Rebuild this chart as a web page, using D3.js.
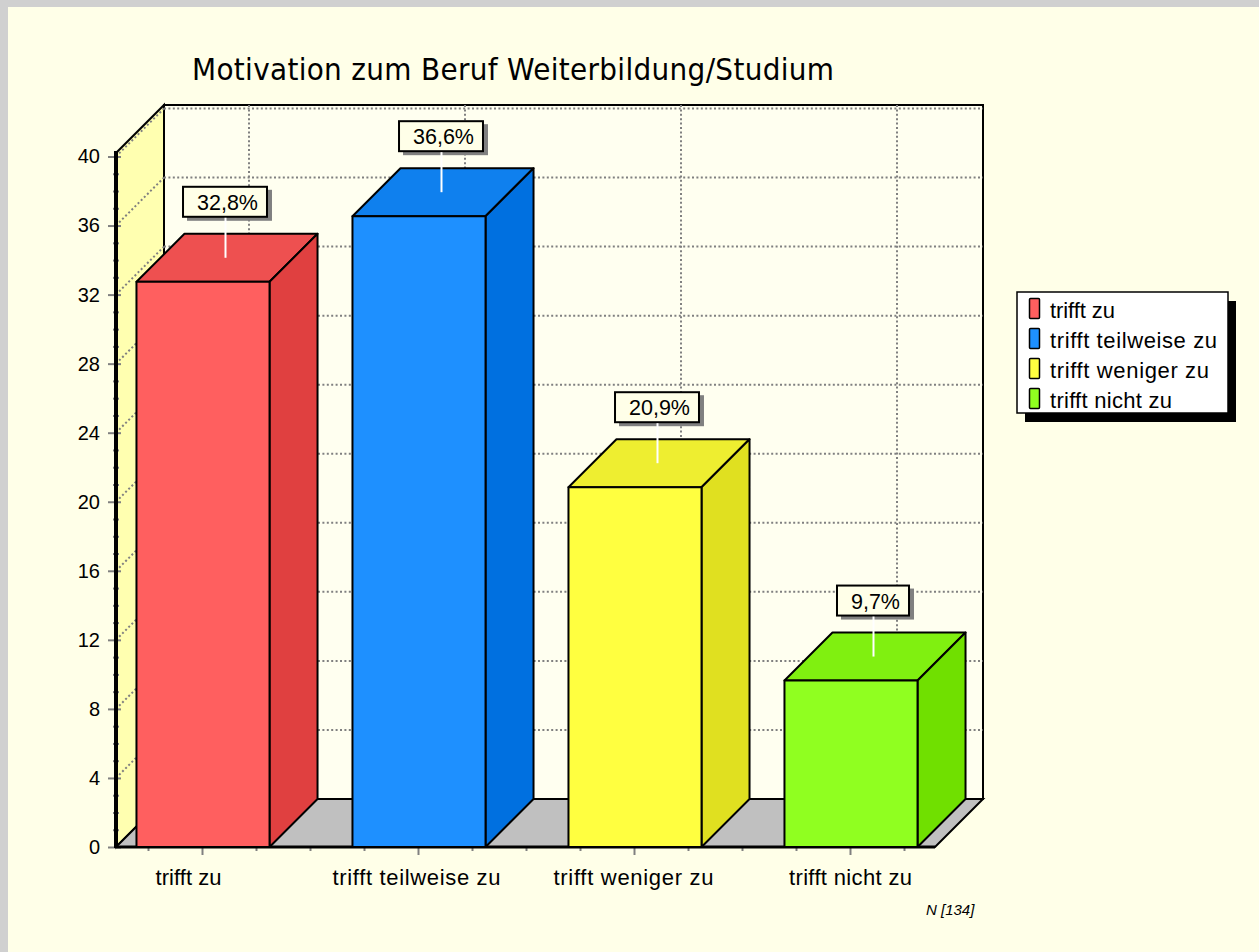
<!DOCTYPE html>
<html>
<head>
<meta charset="utf-8">
<script src="https://cdn.jsdelivr.net/npm/d3@7"></script>
<style>
    html, body { margin: 0; padding: 0; background: #d0d0d0; overflow: hidden; }
    svg { display: block; }
    text { font-family: "Liberation Sans", Arial, sans-serif; fill: #000; }
    .y-axis .tick text { font-size: 20px; }
    .x-axis .tick text { font-size: 22px; }
</style>
</head>
<body>
<div id="chart"></div>
<script>
const categories = ['trifft zu', 'trifft teilweise zu', 'trifft weniger zu', 'trifft nicht zu']
const values = [32.8, 36.6, 20.9, 9.7]
const valueLabels = ['32,8%', '36,6%', '20,9%', '9,7%']
const frontColors = ['#ff5f5f', '#1e90ff', '#ffff40', '#90ff20']
const topColors = ['#ee5050', '#0f80ee', '#eeee30', '#80f010']
const sideColors = ['#e04040', '#0070e0', '#e0e020', '#70e000']
const yTicks = d3.range(0, 41, 4)
const yMinorTicks = d3.range(0, 41, 1).filter(d => d % 4 !== 0)

const width = 1259, height = 952
const depth = 48

const svg = d3.select('#chart').append('svg').attr('width', width).attr('height', height)

// page panel, grey edge stays on top and left only
svg.append('rect').attr('x', 8).attr('y', 7).attr('width', width).attr('height', height).attr('fill', '#ffffe8')

let y = d3.scaleLinear().domain([0, 40]).range([847, 156.5])
let x = d3.scaleBand().domain(categories).range([95, 959]).paddingInner(0.384).paddingOuter(0.192)
// tick positions on the category axis, index based so minor ticks can sit between
let xTick = d3.scaleLinear().domain([0, 3]).range([202, 850])

const left = 116, right = 935, topY = 153, floorY = y(0)

// the source squeezes these labels unevenly, so fit them to the widths seen there
const labelWidth = { 'trifft zu': 66, 'trifft teilweise zu': 168, 'trifft weniger zu': 160, 'trifft nicht zu': 123 }
const labelShift = { 'trifft zu': -14, 'trifft teilweise zu': -2, 'trifft weniger zu': -1, 'trifft nicht zu': 0 }

// side wall, back wall, floor
svg.append('polygon')
    .attr('points', [[left, floorY], [left + depth, floorY - depth], [left + depth, topY - depth], [left, topY]].join(' '))
    .attr('fill', '#ffffb0').attr('stroke', '#000').attr('stroke-width', 2)
svg.append('rect')
    .attr('x', left + depth).attr('y', topY - depth)
    .attr('width', right - left).attr('height', floorY - topY)
    .attr('fill', '#fffff0').attr('stroke', '#000').attr('stroke-width', 2)
svg.append('polygon')
    .attr('points', [[left, floorY], [left + depth, floorY - depth], [right + depth, floorY - depth], [right, floorY]].join(' '))
    .attr('fill', '#c0c0c0').attr('stroke', '#000').attr('stroke-width', 2)

// dotted grid
let grid = svg.append('g').attr('fill', 'none').attr('stroke', '#808080').attr('stroke-width', 2).attr('stroke-dasharray', '2 2.4')
yTicks.filter(d => d > 0).forEach(d => {
    grid.append('line').attr('x1', left + depth).attr('x2', right + depth)
        .attr('y1', y(d) - depth).attr('y2', y(d) - depth)
    grid.append('line').attr('x1', left).attr('x2', left + depth)
        .attr('y1', y(d)).attr('y2', y(d) - depth)
})
categories.forEach((c, i) => {
    grid.append('line').attr('x1', xTick(i) + depth - 1).attr('x2', xTick(i) + depth - 1)
        .attr('y1', topY - depth).attr('y2', floorY - depth)
})

// axes
let yAxis = d3.axisLeft(y).tickValues(yTicks).tickSize(8).tickPadding(8).tickSizeOuter(0)
let yAxisG = svg.append('g').attr('class', 'y-axis').attr('transform', `translate(${left},0)`).call(yAxis)
yAxisG.select('.domain').remove()
yAxisG.selectAll('line').attr('stroke', '#808080').attr('stroke-width', 2).attr('x2', 5).attr('x1', -8)
let yMinor = svg.append('g').attr('transform', `translate(${left},0)`).call(d3.axisLeft(y).tickValues(yMinorTicks).tickSize(3).tickFormat(''))
yMinor.select('.domain').remove()
yMinor.selectAll('line').attr('stroke', '#808080').attr('stroke-width', 2).attr('x2', 3).attr('x1', -3)

let xAxis = d3.axisBottom(xTick).tickValues(d3.range(4)).tickSize(8).tickPadding(14).tickSizeOuter(0).tickFormat(i => categories[i])
let xAxisG = svg.append('g').attr('class', 'x-axis').attr('transform', `translate(0,${floorY})`).call(xAxis)
xAxisG.select('.domain').remove()
xAxisG.selectAll('line').attr('stroke', '#808080').attr('stroke-width', 2)
xAxisG.selectAll('text')
    .attr('dx', i => labelShift[categories[i]])
    .attr('textLength', i => labelWidth[categories[i]])
    .attr('lengthAdjust', 'spacing')
let xMinorTicks = d3.range(-0.25, 3.5, 0.25).filter(d => d % 1 !== 0)
let xMinor = svg.append('g').attr('transform', `translate(0,${floorY})`).call(d3.axisBottom(xTick).tickValues(xMinorTicks).tickSize(4).tickFormat(''))
xMinor.select('.domain').remove()
xMinor.selectAll('line').attr('stroke', '#808080').attr('stroke-width', 2)

// thick front edges go over the tick stubs
svg.append('line').attr('x1', left).attr('x2', left).attr('y1', topY - 2).attr('y2', floorY + 1)
    .attr('stroke', '#000').attr('stroke-width', 4)
svg.append('line').attr('x1', left).attr('x2', right).attr('y1', floorY).attr('y2', floorY)
    .attr('stroke', '#000').attr('stroke-width', 3)

// bars
let bars = svg.append('g').selectAll('g').data(values).join('g')
bars.each(function (d, i) {
    let g = d3.select(this)
    let x0 = x(categories[i]), x1 = x0 + x.bandwidth(), y0 = y(d) + 1
    g.append('polygon')
        .attr('points', [[x0, y0], [x0 + depth, y0 - depth], [x1 + depth, y0 - depth], [x1, y0]].join(' '))
        .attr('fill', topColors[i])
    g.append('polygon')
        .attr('points', [[x1, y0], [x1 + depth, y0 - depth], [x1 + depth, floorY - depth], [x1, floorY]].join(' '))
        .attr('fill', sideColors[i])
    g.append('rect')
        .attr('x', x0).attr('y', y0).attr('width', x.bandwidth()).attr('height', floorY - y0)
        .attr('fill', frontColors[i])
    g.selectAll('polygon,rect').attr('stroke', '#000').attr('stroke-width', 2).attr('stroke-linejoin', 'round')
})

// value labels with leader line
let labels = svg.append('g').selectAll('g').data(values).join('g')
labels.each(function (d, i) {
    let g = d3.select(this)
    let cx = x(categories[i]) + x.bandwidth() / 2 + depth / 2 - 1.5
    let backY = y(d) + 1 - depth
    let bh = 30
    let t = g.append('text').attr('font-size', 21.5).attr('text-anchor', 'middle')
        .attr('x', cx + 2).attr('y', backY - 17 - bh / 2 + 8).text(valueLabels[i])
    let tw = t.node().getComputedTextLength()
    let bw = tw + 23
    let bx = cx + 2 - tw / 2 - 14
    let by = backY - 17 - bh
    g.insert('rect', 'text').attr('x', bx + 4).attr('y', by + 3).attr('width', bw + 1).attr('height', bh + 1).attr('fill', '#808080')
    g.insert('rect', 'text').attr('x', bx).attr('y', by).attr('width', bw).attr('height', bh)
        .attr('fill', '#ffffe8').attr('stroke', '#000').attr('stroke-width', 2)
    g.append('line').attr('x1', cx).attr('x2', cx).attr('y1', by + bh + 1).attr('y2', y(d) + 1 - depth / 2)
        .attr('stroke', '#fff').attr('stroke-width', 2)
})

// title and note
svg.append('text').attr('x', 192).attr('y', 80).attr('font-size', 31)
    .style('font-family', '"DejaVu Sans Condensed", "DejaVu Sans", sans-serif').attr('textLength', 642).attr('lengthAdjust', 'spacing')
    .text('Motivation zum Beruf Weiterbildung/Studium')
svg.append('text').attr('x', 926).attr('y', 915).attr('font-size', 15).attr('font-style', 'italic').text('N [134]')

// legend
let legend = svg.append('g')
legend.append('rect').attr('x', 1025).attr('y', 301).attr('width', 211).attr('height', 121).attr('fill', '#000')
legend.append('rect').attr('x', 1017).attr('y', 292).attr('width', 211).attr('height', 121)
    .attr('fill', '#fff').attr('stroke', '#000').attr('stroke-width', 1.5)
let legendY = d3.scalePoint().domain(categories).range([308, 398])
categories.forEach((c, i) => {
    legend.append('rect').attr('x', 1029.5).attr('y', legendY(c) - 9.5).attr('width', 10).attr('height', 20)
        .attr('fill', frontColors[i]).attr('stroke', '#000').attr('stroke-width', 1.5).attr('rx', 1)
    legend.append('text').attr('x', 1050).attr('y', legendY(c) + 10).attr('font-size', 22)
        .attr('textLength', labelWidth[c] - 1).attr('lengthAdjust', 'spacing').text(c)
})
</script>
</body>
</html>
